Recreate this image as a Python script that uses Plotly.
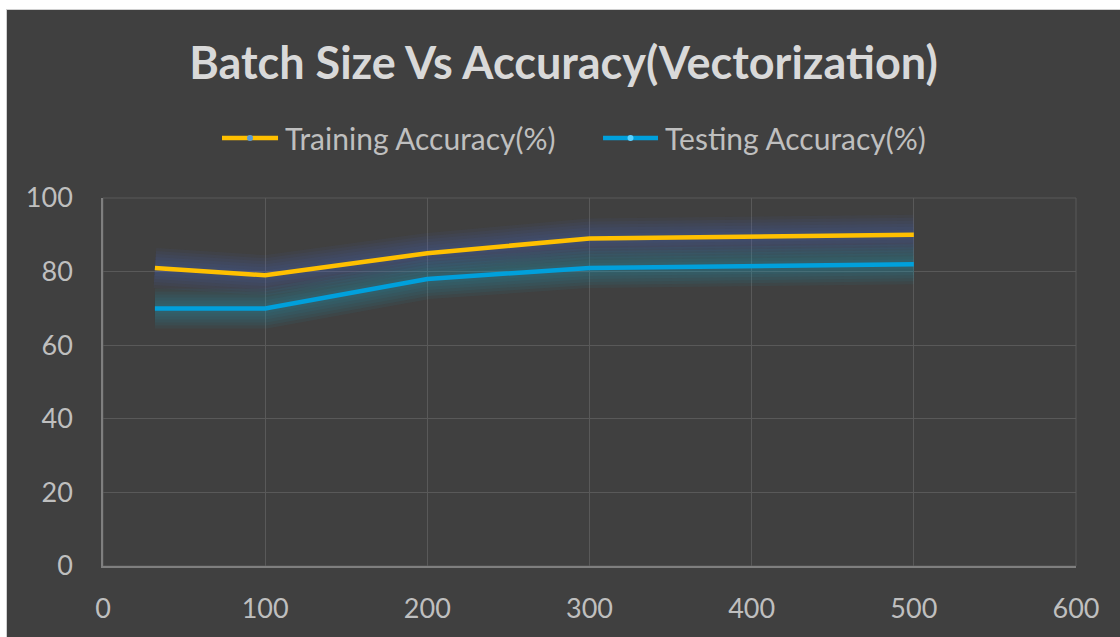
import plotly.graph_objects as go

FONT_FAMILY = "Lato, 'Open Sans', sans-serif"

batch_size = [32, 100, 200, 300, 500]
training_acc = [81, 79, 85, 89, 90]
testing_acc = [70, 70, 78, 81, 82]
series_names = ["Training Accuracy(%)", "Testing Accuracy(%)"]

YELLOW = "#FFC000"
BLUE = "#00A0DC"
BG = "#404040"
GRID = "#595959"
TEXT = "#BFBFBF"

fig = go.Figure()

# soft glow under each line
for series, glow in [(training_acc, "rgba(70,110,200,0.065)"), (testing_acc, "rgba(30,160,200,0.065)")]:
    for w in (40, 34, 28, 22, 16, 10):
        fig.add_trace(go.Scatter(x=batch_size, y=series, mode="lines", showlegend=False,
                                 hoverinfo="skip", line={"color": glow, "width": w}))

fig.add_trace(go.Scatter(x=batch_size, y=training_acc, mode="lines", showlegend=False,
                         name=series_names[0], line={"color": YELLOW, "width": 4.5}))
fig.add_trace(go.Scatter(x=batch_size, y=testing_acc, mode="lines", showlegend=False,
                         name=series_names[1], line={"color": BLUE, "width": 4.5}))

# frame of the plot area in grid colour (top / right edges)
fig.add_shape(type="rect", xref="paper", yref="paper", x0=0, x1=1, y0=0, y1=1,
              line={"color": GRID, "width": 1}, layer="below")

# hand-made legend (Excel style: long line with a dot in the middle)
LEG_Y = 1.163
legend_items = [
    (series_names[0], YELLOW, "#5B9BD5", 0.1223, 0.1799, 0.185),
    (series_names[1], BLUE, "#5AD2FF", 0.5139, 0.5704, 0.5755),
]
for name, color, dot, x0, x1, xt in legend_items:
    fig.add_shape(type="line", xref="paper", yref="paper", x0=x0, x1=x1, y0=LEG_Y, y1=LEG_Y,
                  line={"color": color, "width": 4.5})
    xm = (x0 + x1) / 2
    fig.add_shape(type="circle", xref="paper", yref="paper",
                  x0=xm - 3 / 973, x1=xm + 3 / 973, y0=LEG_Y - 3 / 368, y1=LEG_Y + 3 / 368,
                  fillcolor=dot, line={"width": 0})
    fig.add_annotation(text=name, xref="paper", yref="paper", x=xt, y=LEG_Y, xanchor="left",
                       yanchor="middle", showarrow=False, font={"size": 30, "color": TEXT})

fig.update_layout(
    width=1113,
    height=627,
    margin={"l": 96, "r": 44, "t": 188, "b": 71, "autoexpand": False},
    paper_bgcolor=BG,
    plot_bgcolor=BG,
    font={"family": FONT_FAMILY, "color": TEXT},
    title={"text": "<b>Batch Size Vs Accuracy(Vectorization)</b>", "x": 0.5, "xanchor": "center",
           "y": 1 - 53 / 627, "yanchor": "middle",
           "font": {"size": 45, "color": "#D9D9D9", "family": FONT_FAMILY}},
    showlegend=False,
)
fig.update_xaxes(range=[0, 600], dtick=100, tick0=0, showgrid=True, gridcolor=GRID, gridwidth=1,
                 zeroline=False, showline=True, linecolor="#7F7F7F", linewidth=1.5, automargin=False,
                 ticks="", ticklabelstandoff=18, tickfont={"size": 27, "color": TEXT})
fig.update_yaxes(range=[0, 100], dtick=20, tick0=0, showgrid=True, gridcolor=GRID, gridwidth=1,
                 zeroline=False, showline=True, linecolor="#7F7F7F", linewidth=1.5, automargin=False,
                 ticks="", ticklabelstandoff=23, tickfont={"size": 27, "color": TEXT})

fig.write_html(
    "out.html",
    post_script="document.body.style.margin='9px 0 0 6px';document.body.style.overflow='hidden';"
                "var d=document.querySelector('.plotly-graph-div');"
                "d.style.borderLeft='1px solid #D0D0D0';d.style.borderTop='1px solid #D0D0D0';",
)
